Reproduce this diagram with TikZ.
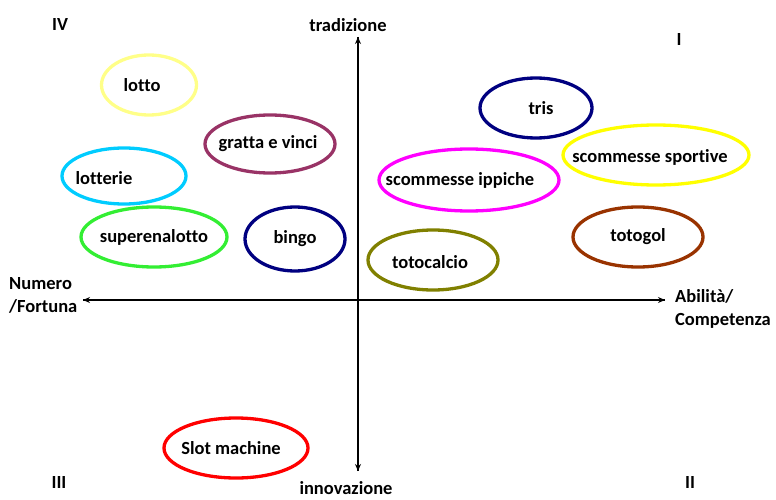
\documentclass[tikz,border=0pt]{standalone}
\usepackage{fontspec}
\setmainfont{Carlito}[Ligatures=NoCommon]
\usetikzlibrary{shapes.geometric,arrows.meta}
\definecolor{cLotto}{HTML}{FFFF88}
\definecolor{cGratta}{HTML}{993366}
\definecolor{cLotterie}{HTML}{00CCFF}
\definecolor{cSuper}{HTML}{33EE33}
\definecolor{cNavy}{HTML}{000080}
\definecolor{cSportive}{HTML}{FFFF00}
\definecolor{cIppiche}{HTML}{FF00FF}
\definecolor{cTotogol}{HTML}{993300}
\definecolor{cTotocalcio}{HTML}{808000}
\definecolor{cSlot}{HTML}{FF0000}
\begin{document}
\begin{tikzpicture}[x=1pt,y=-1pt,
  gioco/.style={ellipse, draw=#1, line width=3.3pt, inner sep=0pt},
  lab/.style={font=\fontsize{18.5}{23}\selectfont\bfseries, text=black, inner sep=1pt},
  axis/.style={line width=1.4pt, -{Stealth[length=7pt,width=6pt]}}]
\useasboundingbox (0,0) rectangle (776,500);
% ellipses
\node[gioco=cLotto, minimum width=95pt, minimum height=60pt, label={[lab,xshift=-7pt]center:lotto}] (lotto) at (149,85) {};
\node[gioco=cGratta, minimum width=130pt, minimum height=58pt, label={[lab,xshift=-2pt]center:gratta e vinci}] (gratta) at (270,144) {};
\node[gioco=cLotterie, minimum width=124pt, minimum height=56pt, label={[lab,xshift=-20pt,yshift=-2pt]center:lotterie}] (lotterie) at (124,176) {};
\node[gioco=cSuper, minimum width=146pt, minimum height=60pt, label={[lab]center:superenalotto}] (super) at (154,237) {};
\node[gioco=cNavy, minimum width=100pt, minimum height=64pt, label={[lab]center:bingo}] (bingo) at (295,239) {};
\node[gioco=cNavy, minimum width=112pt, minimum height=60pt, label={[lab,xshift=5pt]center:tris}] (tris) at (536,108) {};
\node[gioco=cSportive, minimum width=186pt, minimum height=60pt, label={[lab,xshift=-6pt,yshift=-2pt]center:scommesse sportive}] (sportive) at (656,155) {};
\node[gioco=cIppiche, minimum width=180pt, minimum height=62pt, label={[lab,xshift=-9pt]center:scommesse ippiche}] (ippiche) at (469,180) {};
\node[gioco=cTotogol, minimum width=130pt, minimum height=60pt, label={[lab]center:totogol}] (totogol) at (638,237) {};
\node[gioco=cTotocalcio, minimum width=130pt, minimum height=60pt, label={[lab,xshift=-3pt,yshift=-2pt]center:totocalcio}] (totocalcio) at (433,260) {};
\node[gioco=cSlot, minimum width=144pt, minimum height=60pt, label={[lab,xshift=-5pt]center:Slot machine}] (slot) at (236,448) {};
% axes
\coordinate (xl) at (83,300);
\coordinate (xr) at (665,300);
\coordinate (yt) at (358,37);
\coordinate (yb) at (358,471);
\draw[axis] (yb) -- (yt);
\draw[axis] (yt) -- (yb);
\draw[axis] (xr) -- (xl);
\draw[axis] (xl) -- (xr);
% axis labels
\node[lab] (trad) at (348,25) {tradizione};
\node[lab] (innov) at (346,488) {innovazione};
\node[lab, align=left, anchor=west] (numero) at (8,295) {Numero\\/Fortuna};
\node[lab, align=left, anchor=west] (abilita) at (674,309) {Abilità/\\Competenza};
\node[lab] (q4) at (60,25) {IV};
\node[lab] (q1) at (679,40) {I};
\node[lab] (q3) at (59,482) {III};
\node[lab] (q2) at (690,482) {II};
\end{tikzpicture}
\end{document}
